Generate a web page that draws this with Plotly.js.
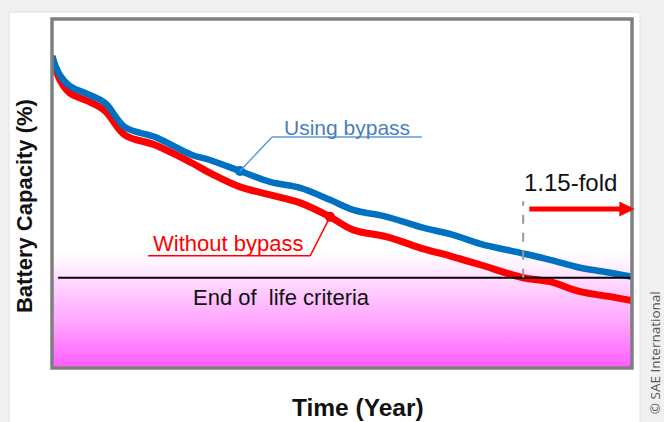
<!DOCTYPE html>
<html>
<head>
<meta charset="utf-8">
<script src="https://cdn.plot.ly/plotly-3.0.1.min.js"></script>
<style>html,body{margin:0;padding:0;background:#f0f0f0;}#chart{width:664px;height:422px;}</style>
</head>
<body>
<div id="chart"></div>
<script>
// Time (years, arbitrary scale) and battery capacity (%)
const timeBlue = [0, 0.17, 0.38, 0.81, 1.13, 1.55, 2.19, 2.97, 3.35, 3.99, 4.63, 5.27, 5.90, 6.39, 7.11, 7.81, 8.51, 9.09, 9.94, 10.57, 11.21, 11.85, 12.31];
const capUsingBypass = [100.0, 98.29, 97.30, 96.49, 95.77, 93.60, 92.70, 91.08, 90.63, 89.64, 88.65, 88.11, 87.03, 86.13, 85.50, 84.59, 83.87, 83.06, 82.25, 81.62, 80.90, 80.45, 80.09];
const timeRed = [0, 0.17, 0.38, 0.81, 1.13, 1.55, 2.19, 2.97, 3.35, 3.99, 4.63, 5.27, 5.90, 6.39, 7.11, 7.81, 8.51, 9.09, 10.0, 10.57, 11.21, 11.85, 12.31];
const capWithoutBypass = [100.0, 97.84, 96.67, 95.86, 95.05, 92.88, 91.98, 90.36, 89.46, 88.20, 87.48, 86.76, 85.50, 84.32, 83.69, 82.70, 81.89, 81.17, 80.0, 79.64, 78.74, 78.29, 77.93];
const endOfLife = 80;
const xRange = [0, 12.31];
const yRange = [71.85, 103.36];
const blueCallout = 9;   // index of marked point on blue curve
const redCallout = 12;   // index of marked point on red curve
const redEolIndex = 18;  // red reaches end of life

const FONT = '"Liberation Sans", Arial, sans-serif';
const BLUE = '#0070c0';
const RED = '#ff0000';

const traces = [
  {
    x: [xRange[0], xRange[1], xRange[1], xRange[0]],
    y: [yRange[0], yRange[0], 82.5, 82.5],
    mode: 'none', fill: 'toself', hoverinfo: 'skip', showlegend: false,
    fillgradient: {type: 'vertical', start: yRange[0], stop: 82.5,
      colorscale: [[0, '#ff5cff'], [0.4, '#ffa8ff'], [0.76, '#ffdcff'], [0.86, '#fff0ff'], [1, '#ffffff']]}
  },
  {x: timeRed, y: capWithoutBypass, mode: 'lines', line: {color: RED, width: 7, shape: 'spline', smoothing: 1}, showlegend: false, name: 'Without bypass'},
  {x: timeBlue, y: capUsingBypass, mode: 'lines', line: {color: BLUE, width: 6.5, shape: 'spline', smoothing: 1}, showlegend: false, name: 'Using bypass'},
  {x: [timeBlue[blueCallout]], y: [capUsingBypass[blueCallout]], mode: 'markers', marker: {color: BLUE, size: 10}, showlegend: false, hoverinfo: 'skip'},
  {x: [timeRed[redCallout]], y: [capWithoutBypass[redCallout]], mode: 'markers', marker: {color: RED, size: 10}, showlegend: false, hoverinfo: 'skip'}
];

const bx = timeBlue[blueCallout], by = capUsingBypass[blueCallout];
const rx = timeRed[redCallout], ry = capWithoutBypass[redCallout];
const eolX = timeRed[redEolIndex];

const shapes = [
  // white card
  {type: 'rect', xref: 'paper', yref: 'paper', x0: -0.0741, x1: 1.0138, y0: -0.2, y1: 1.0195, fillcolor: '#ffffff', line: {color: '#e2e2e2', width: 1}, layer: 'below'},
  // end of life line
  {type: 'line', x0: 0.13, x1: xRange[1], y0: endOfLife, y1: endOfLife, line: {color: '#000000', width: 2}},
  // dashed marker at red EOL
  {type: 'line', x0: eolX, x1: eolX, y0: endOfLife, y1: 86.9, line: {color: '#999999', width: 2, dash: 'dash'}},
  // Using bypass underline + leader
  {type: 'line', x0: 4.67, x1: 7.85, y0: 92.7, y1: 92.7, line: {color: '#5b9bd5', width: 1.5}},
  {type: 'line', x0: 4.67, x1: bx, y0: 92.7, y1: by, line: {color: '#5b9bd5', width: 1.5}},
  // Without bypass underline + leader
  {type: 'line', x0: 2.04, x1: 5.48, y0: 81.98, y1: 81.98, line: {color: RED, width: 1.5}},
  {type: 'line', x0: 5.48, x1: rx, y0: 81.98, y1: ry, line: {color: RED, width: 1.5}},
  // frame
  {type: 'rect', xref: 'paper', yref: 'paper', x0: 0, x1: 1, y0: 0, y1: 1, line: {color: '#7f7f7f', width: 3.5}, layer: 'above'}
];

const annotations = [
  {x: 6.26, y: 93.6, text: 'Using bypass', showarrow: false, font: {family: FONT, size: 21, color: '#4a7ebb'}, xanchor: 'center', yanchor: 'middle'},
  {x: 3.74, y: 83.06, text: 'Without bypass', showarrow: false, font: {family: FONT, size: 22, color: RED}, xanchor: 'center', yanchor: 'middle'},
  {x: 11.0, y: 88.56, text: '1.15-fold', showarrow: false, font: {family: FONT, size: 24, color: '#111111'}, xanchor: 'center', yanchor: 'middle'},
  {x: 4.88, y: 78.2, text: 'End of\u00a0 life criteria', showarrow: false, font: {family: FONT, size: 22, color: '#111111'}, xanchor: 'center', yanchor: 'middle'},
  // 1.15-fold arrow
  {x: 12.36, y: 86.2, ax: 10.1, ay: 86.2, axref: 'x', ayref: 'y', text: '', showarrow: true, arrowhead: 2, arrowsize: 0.6, arrowwidth: 5, arrowcolor: RED},
  // axis titles
  {xref: 'paper', yref: 'paper', x: 0.5276, y: -0.1146, text: '<b>Time (Year)</b>', showarrow: false, font: {family: FONT, size: 24.5, color: '#111111'}, xanchor: 'center', yanchor: 'middle'},
  {xref: 'paper', yref: 'paper', x: -0.0483, y: 0.464, text: '<b>Battery Capacity (%)</b>', textangle: -90, showarrow: false, font: {family: FONT, size: 22, color: '#111111'}, xanchor: 'center', yanchor: 'middle'},
  {xref: 'paper', yref: 'paper', x: 1.0395, y: 0.045, text: '© SAE International', textangle: -90, showarrow: false, font: {family: '"Open Sans", sans-serif', size: 13.5, color: '#555555'}, xanchor: 'center', yanchor: 'middle'}
];

const layout = {
  width: 664, height: 422,
  margin: {l: 52, r: 32, t: 19, b: 54},
  paper_bgcolor: '#f0f0f0',
  plot_bgcolor: 'rgba(0,0,0,0)',
  xaxis: {range: xRange, showgrid: false, zeroline: false, showticklabels: false, ticks: '', showline: false},
  yaxis: {range: yRange, showgrid: false, zeroline: false, showticklabels: false, ticks: '', showline: false},
  shapes: shapes,
  annotations: annotations,
  showlegend: false
};

Plotly.newPlot('chart', traces, layout, {displayModeBar: false, staticPlot: true});
</script>
</body>
</html>
